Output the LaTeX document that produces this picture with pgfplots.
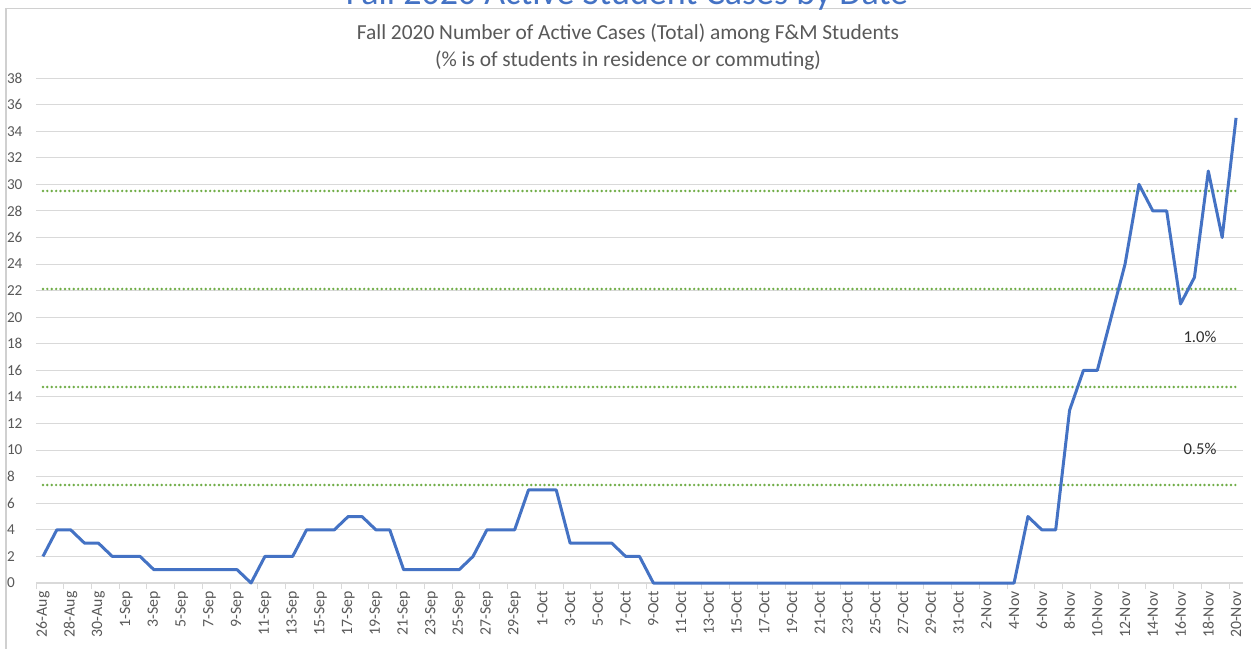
\documentclass[border=0pt]{standalone}
\usepackage{pgfplots}
\pgfplotsset{compat=1.18}
\usepackage{pgfplotstable}
\usepackage{fontspec}
\setmainfont{Carlito}
\definecolor{exblue}{HTML}{4472C4}
\definecolor{exgreen}{HTML}{70AD47}
\definecolor{txtgray}{HTML}{595959}
\definecolor{lblgray}{HTML}{303030}
\definecolor{gridgray}{HTML}{D9D9D9}
\definecolor{framegray}{HTML}{D0D0D0}

\pgfplotstableread{
idx val
0 2
1 4
2 4
3 3
4 3
5 2
6 2
7 2
8 1
9 1
10 1
11 1
12 1
13 1
14 1
15 0
16 2
17 2
18 2
19 4
20 4
21 4
22 5
23 5
24 4
25 4
26 1
27 1
28 1
29 1
30 1
31 2
32 4
33 4
34 4
35 7
36 7
37 7
38 3
39 3
40 3
41 3
42 2
43 2
44 0
45 0
46 0
47 0
48 0
49 0
50 0
51 0
52 0
53 0
54 0
55 0
56 0
57 0
58 0
59 0
60 0
61 0
62 0
63 0
64 0
65 0
66 0
67 0
68 0
69 0
70 0
71 5
72 4
73 4
74 13
75 16
76 16
77 20
78 24
79 30
80 28
81 28
82 21
83 23
84 31
85 26
86 35
}\cases

\begin{document}
\begin{tikzpicture}
\useasboundingbox (0,0) rectangle (625.5pt,-324pt);
\clip (0,0) rectangle (625.5pt,-324pt);
\fill[white] (0,0) rectangle (625.5pt,-324pt);
\draw[framegray, line width=0.7pt] (3pt,-400pt) -- (3pt,-4.25pt) -- (700pt,-4.25pt);
\node[anchor=base, inner sep=0pt, font=\fontsize{18}{21}\selectfont, text=exblue] at (313.5pt,-2.2pt) {Fall 2020 Active Student Cases by Date};
\node[align=center, inner sep=0pt, font=\fontsize{10.7}{13.5}\selectfont, text=txtgray] at (314pt,-23.3pt) {Fall 2020 Number of Active Cases (Total) among F\&M Students\\(\% is of students in residence or commuting)};
\begin{axis}[
  at={(18pt,-291.5pt)}, anchor=south west,
  scale only axis, width=603.5pt, height=252.5pt,
  xmin=-0.5, xmax=86.5, ymin=0, ymax=38,
  /pgf/number format/assume math mode=true,
  axis x line*=bottom, axis y line*=left,
  x axis line style={gridgray, line width=0.6pt},
  y axis line style={draw=none},
  ytick={0,2,...,38},
  ymajorgrids, grid style={gridgray, line width=0.5pt},
  major tick length=0pt,
  ytick style={draw=none},
  xtick style={draw=none},
  yticklabel style={anchor=west, inner sep=0pt, xshift=-14.7pt, font=\fontsize{7.6}{8}\selectfont, text=txtgray},
  xtick={0,2,...,86},
  xticklabels={26-Aug,28-Aug,30-Aug,1-Sep,3-Sep,5-Sep,7-Sep,9-Sep,11-Sep,13-Sep,15-Sep,17-Sep,19-Sep,21-Sep,23-Sep,25-Sep,27-Sep,29-Sep,1-Oct,3-Oct,5-Oct,7-Oct,9-Oct,11-Oct,13-Oct,15-Oct,17-Oct,19-Oct,21-Oct,23-Oct,25-Oct,27-Oct,29-Oct,31-Oct,2-Nov,4-Nov,6-Nov,8-Nov,10-Nov,12-Nov,14-Nov,16-Nov,18-Nov,20-Nov},
  xticklabel style={rotate=90, anchor=east, inner sep=0pt, xshift=-4pt, font=\fontsize{7.9}{8.5}\selectfont, text=txtgray},
  extra x ticks={-0.5,1.5,...,85.5},
  extra x tick labels={},
  extra x tick style={grid=none, major tick length=3pt, tick align=outside, xtick style={draw=gridgray, line width=0.5pt}},
  clip=false,
]
\addplot[exgreen, line width=1.35pt, line cap=round, dash pattern=on 0pt off 2.2pt] coordinates {(0,7.375) (86,7.375)};
\addplot[exgreen, line width=1.35pt, line cap=round, dash pattern=on 0pt off 2.2pt] coordinates {(0,14.75) (86,14.75)};
\addplot[exgreen, line width=1.35pt, line cap=round, dash pattern=on 0pt off 2.2pt] coordinates {(0,22.125) (86,22.125)};
\addplot[exgreen, line width=1.35pt, line cap=round, dash pattern=on 0pt off 2.2pt] coordinates {(0,29.5) (86,29.5)};
\addplot[exblue, line width=1.5pt, line join=round] table[x=idx, y=val] {\cases};
\node[font=\fontsize{8.3}{9}\selectfont, text=lblgray] at (axis cs:83.4,18.5) {1.0\%};
\node[font=\fontsize{8.3}{9}\selectfont, text=lblgray] at (axis cs:83.4,10.1) {0.5\%};
\end{axis}
\end{tikzpicture}
\end{document}
